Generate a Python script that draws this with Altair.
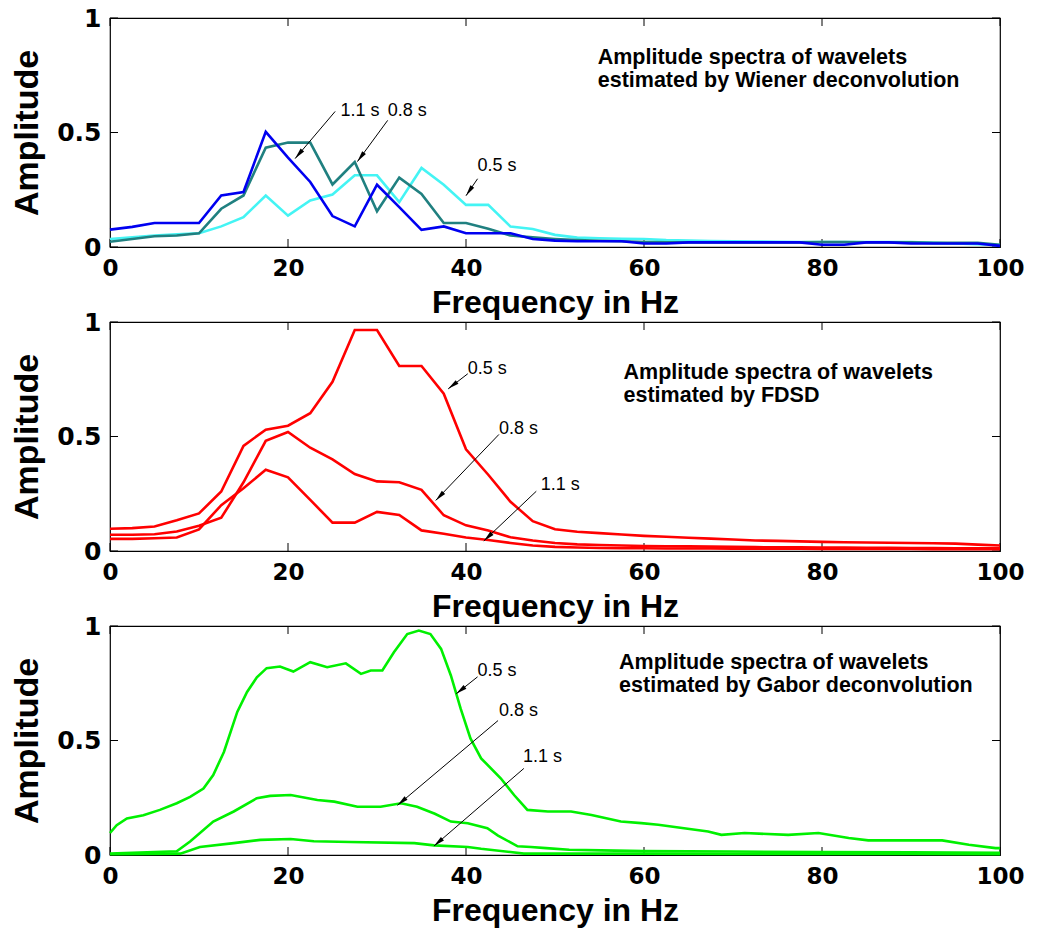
import math
import altair as alt
import pandas as pd

# ---------------- data ----------------
# sampled frequencies (Hz) for Wiener and FDSD spectra
freq = [0, 2.5, 5, 7.5, 10, 12.5, 15, 17.5, 20, 22.5, 25, 27.5, 30, 32.5, 35, 37.5,
        40, 42.5, 45, 47.5, 50, 52.5, 55, 57.5, 60, 62.5, 65, 67.5, 70, 72.5, 75,
        77.5, 80, 82.5, 85, 87.5, 90, 92.5, 95, 97.5, 100]

wiener_05 = [.035, .042, .05, .055, .06, .09, .13, .225, .137, .203, .229, .313, .313, .196,
             .345, .272, .184, .184, .089, .079, .053, .041, .038, .036, .035, .03, .028,
             .026, .025, .024, .023, .022, .022, .022, .022, .022, .022, .018, .015, .012, .008]
wiener_08 = [.023, .035, .047, .05, .06, .167, .225, .434, .456, .456, .273, .371, .156, .303,
             .232, .105, .105, .08, .05, .042, .035, .03, .027, .025, .022, .02, .02, .02, .02,
             .02, .02, .02, .022, .022, .02, .02, .02, .018, .018, .018, .01]
wiener_11 = [.076, .088, .105, .105, .105, .225, .24, .503, .39, .284, .135, .09, .272, .174,
             .075, .09, .06, .06, .06, .035, .028, .025, .025, .025, .015, .015, .02, .02, .02,
             .02, .02, .02, .01, .01, .02, .02, .015, .015, .015, .015, .005]

fdsd_05 = [.097, .1, .107, .134, .164, .26, .459, .53, .547, .602, .739, .965, .965, .808,
           .808, .687, .444, .333, .215, .13, .095, .084, .078, .072, .066, .062, .058, .054,
           .05, .046, .044, .042, .04, .038, .037, .036, .035, .034, .032, .028, .024]
fdsd_08 = [.071, .071, .073, .085, .11, .145, .30, .481, .52, .451, .40, .336, .304, .30, .267,
           .156, .112, .09, .06, .046, .035, .029, .026, .024, .022, .021, .02, .019, .018,
           .017, .016, .016, .015, .015, .014, .014, .013, .013, .012, .012, .012]
fdsd_11 = [.053, .053, .056, .059, .094, .2, .274, .355, .322, .223, .124, .124, .171, .157,
           .09, .075, .059, .048, .035, .024, .018, .015, .013, .012, .012, .011, .011, .011,
           .01, .01, .01, .01, .009, .009, .009, .009, .009, .008, .008, .008, .008]

gabor_05_f = [0, 0.75, 1.9, 3.75, 5.6, 7.5, 9, 10.5, 11.6, 12.8, 14.3, 15.4, 16.5, 17.6, 19.1,
              20.6, 22.5, 24.4, 26.5, 28.2, 29.3, 30.6, 31.9, 33.4, 34.7, 36, 37.2, 38.3,
              39.4, 40.5, 41.7, 43.9, 45.4, 46.9, 49.2, 51.8, 54.1, 57.4, 59.7, 61.6, 64.5,
              67.2, 68.7, 71.3, 76.2, 79.6, 83, 85.2, 93.5, 96.5, 99.5, 100]
gabor_05_a = [.096, .13, .16, .174, .197, .226, .254, .29, .349, .45, .625, .712, .776, .816,
              .823, .801, .842, .82, .837, .791, .806, .806, .885, .965, .98, .965, .9, .784,
              .639, .509, .422, .335, .262, .197, .19, .19, .175, .146, .139, .132, .117,
              .103, .088, .096, .088, .096, .074, .064, .064, .045, .03, .03]
gabor_08_f = [0, 7.5, 9, 11.6, 13.9, 16.5, 18, 20.3, 23.3, 25.2, 27.8, 30.4, 32.7, 34.5, 36.5,
              38.3, 40.2, 42.4, 43.6, 45.8, 47.3, 49, 51.6, 55.2, 60, 70, 80, 90, 100]
gabor_08_a = [.006, .016, .059, .146, .19, .248, .258, .262, .24, .233, .211, .211, .226, .211,
              .18, .146, .139, .117, .085, .038, .035, .03, .023, .02, .017, .015, .013, .012,
              .01]
gabor_11_f = [0, 7.9, 10.1, 13.9, 16.9, 20.3, 22.9, 27, 34.2, 36.4, 40.2, 41.7, 45, 46.5, 50,
              60, 70, 80, 90, 100]
gabor_11_a = [.003, .006, .035, .052, .066, .07, .06, .057, .052, .042, .035, .027, .013,
              .006, .006, .006, .005, .005, .005, .004]

x_ticks = [0, 20, 40, 60, 80, 100]
y_ticks = [0, 0.5, 1]

notes = [
    ["Amplitude spectra of wavelets", "estimated by Wiener deconvolution"],
    ["Amplitude spectra of wavelets", "estimated by FDSD"],
    ["Amplitude spectra of wavelets", "estimated by Gabor deconvolution"],
]
# annotation anchors (Hz, amplitude)
note_pos = [(54.8, 0.80), (57.7, 0.752), (57.2, 0.813)]
# per panel: label, label (Hz, amp), arrow tail (Hz, amp), arrow head (Hz, amp)
arrows = [
    [("1.1 s", 25.9, 0.596, 25.3, 0.592, 20.8, 0.386),
     ("0.8 s", 31.2, 0.596, 31.2, 0.553, 27.8, 0.373),
     ("0.5 s", 41.3, 0.355, 41.3, 0.298, 40.0, 0.224)],
    [("0.5 s", 40.2, 0.796, 40.2, 0.774, 38.0, 0.708),
     ("0.8 s", 43.7, 0.531, 43.7, 0.509, 36.6, 0.221),
     ("1.1 s", 48.4, 0.288, 47.9, 0.261, 42.0, 0.044)],
    [("0.5 s", 41.3, 0.804, 41.3, 0.778, 38.9, 0.704),
     ("0.8 s", 43.7, 0.630, 43.6, 0.587, 32.3, 0.217),
     ("1.1 s", 46.4, 0.430, 46.5, 0.378, 36.4, 0.039)],
]

# ---------------- styling ----------------
W, H = 890, 229
TITLE_FONT = "Liberation Sans"
LABEL_FONT = "DejaVu Sans"
ARROW_PATH = "M0,0L0.33,1.6L-0.33,1.6Z"

xs = alt.Scale(domain=[0, 100], nice=False, zero=False)
ys = alt.Scale(domain=[0, 1], nice=False, zero=False)
x_axis = alt.Axis(values=x_ticks, title="Frequency in Hz", format=".2~f", ticks=False,
                  domain=False, grid=False, labelFlush=False, labelOverlap=False,
                  labelFont=LABEL_FONT, labelFontSize=23, labelFontWeight="bold",
                  labelColor="black", labelPadding=10, titleFont=TITLE_FONT,
                  titleFontSize=32, titleFontWeight="bold", titleColor="black",
                  titlePadding=7)
y_axis = alt.Axis(values=y_ticks, title="Amplitude", format=".2~f", ticks=False,
                  domain=False, grid=False, labelFlush=False, labelOverlap=False,
                  labelFont=LABEL_FONT, labelFontSize=25, labelFontWeight="bold",
                  labelColor="black", labelPadding=9, titleFont=TITLE_FONT,
                  titleFontSize=34, titleFontWeight="bold", titleColor="black",
                  titlePadding=12)

X = lambda f="f": alt.X(f"{f}:Q", scale=xs, axis=x_axis)
Y = lambda f="a": alt.Y(f"{f}:Q", scale=ys, axis=y_axis)

tl_x = 8 / (W / 100.0)   # tick length in Hz units
tl_y = 8 / H             # tick length in amplitude units


def tick_layer():
    rows = []
    for t in x_ticks:
        rows.append({"f": t, "a": 0, "f2": t, "a2": tl_y})
        rows.append({"f": t, "a": 1 - tl_y, "f2": t, "a2": 1})
    for v in y_ticks:
        rows.append({"f": 0, "a": v, "f2": tl_x, "a2": v})
        rows.append({"f": 100 - tl_x, "a": v, "f2": 100, "a2": v})
    return alt.Chart(pd.DataFrame(rows)).mark_rule(color="black", strokeWidth=1).encode(
        x=X(), y=Y(), x2="f2:Q", y2="a2:Q")


def line_layer(fs, vals, color):
    df = pd.DataFrame({"f": fs, "a": vals})
    return alt.Chart(df).mark_line(color=color, strokeWidth=2.6, interpolate="linear").encode(
        x=X(), y=Y(), order="f:Q")


def panel(lines, note, npos, arr):
    layers = [tick_layer()]
    for fs, vals, color in lines:
        layers.append(line_layer(fs, vals, color))
    adf = []
    for lab, lx, ly, tx, ty, hx, hy in arr:
        dx = (hx - tx) * W / 100.0
        dy = -(hy - ty) * H
        ang = (math.degrees(math.atan2(dx, -dy)) + 360) % 360
        adf.append({"lab": lab, "lx": lx, "ly": ly, "f": tx, "a": ty, "f2": hx,
                    "a2": hy, "ang": ang})
    adf = pd.DataFrame(adf)
    layers.append(alt.Chart(adf).mark_rule(color="black", strokeWidth=1).encode(
        x=X(), y=Y(), x2="f2:Q", y2="a2:Q"))
    layers.append(alt.Chart(adf).mark_point(shape=ARROW_PATH, filled=True, size=196,
                                            color="black", opacity=1, strokeWidth=0).encode(
        x=X("f2"), y=Y("a2"), angle=alt.Angle("ang:Q", scale=None)))
    layers.append(alt.Chart(adf).mark_text(align="left", baseline="middle",
                                           font="Liberation Sans", fontSize=18,
                                           color="black").encode(
        x=X("lx"), y=Y("ly"), text="lab:N"))
    ndf = pd.DataFrame({"f": [npos[0]], "a": [npos[1]]})
    layers.append(alt.Chart(ndf).mark_text(align="left", baseline="alphabetic",
                                           font="Liberation Sans", fontSize=21.5,
                                           fontWeight="bold", lineHeight=23,
                                           color="black", text=note).encode(
        x=X(), y=Y()))
    return alt.layer(*layers).properties(width=W, height=H)


p1 = panel([(freq, wiener_05, "#44F4F4"), (freq, wiener_08, "#208080"),
            (freq, wiener_11, "#0000F0")], notes[0], note_pos[0], arrows[0])
p2 = panel([(freq, fdsd_05, "#FF0000"), (freq, fdsd_08, "#FF0000"),
            (freq, fdsd_11, "#FF0000")], notes[1], note_pos[1], arrows[1])
p3 = panel([(gabor_05_f, gabor_05_a, "#00F000"), (gabor_08_f, gabor_08_a, "#00F000"),
            (gabor_11_f, gabor_11_a, "#00F000")], notes[2], note_pos[2], arrows[2])

chart = alt.vconcat(p1, p2, p3, spacing=75, bounds="flush").properties(
    padding={"left": 10, "top": 5, "right": 5, "bottom": 2},
    background="white",
).configure_view(stroke="black", strokeWidth=1.2)

chart.save("out.html", embed_options={"renderer": "svg", "actions": False})
